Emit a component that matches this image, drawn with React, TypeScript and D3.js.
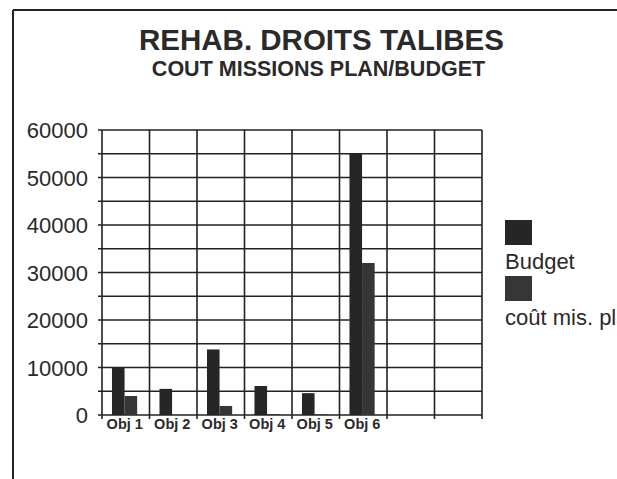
import React from "react";
import * as d3 from "d3";

const categories = ["Obj 1", "Obj 2", "Obj 3", "Obj 4", "Obj 5", "Obj 6", "", ""];
const budget = [10000, 5500, 13800, 6100, 4600, 55000, 0, 0];
const coutMis = [4000, 0, 1900, 200, 150, 32000, 0, 0];
const seriesNames = ["Budget", "coût mis. plan"];
const yTicks = [0, 10000, 20000, 30000, 40000, 50000, 60000];
const yGrid = d3.range(0, 60001, 5000);

const W = 617;
const H = 479;
const plot = { left: 102, right: 482, top: 130, bottom: 415 };
const font = "'Liberation Sans', Arial, sans-serif";
const ink = "#222";

export default function App() {
  const y = d3.scaleLinear().domain([0, 60000]).range([plot.bottom, plot.top]);
  const x = d3
    .scaleBand<number>()
    .domain(d3.range(categories.length))
    .range([plot.left, plot.right]);
  const bw = x.bandwidth();
  const x1 = d3
    .scaleBand<string>()
    .domain(seriesNames)
    .range([bw * 0.21, bw * 0.74]);
  const colors = ["#262626", "#363636"];
  const values = [budget, coutMis];

  return (
    <svg
      width={W}
      height={H}
      style={{ position: "absolute", left: 0, top: 0, background: "#fff" }}
    >
      {/* frame */}
      <line x1={13} y1={10} x2={W} y2={10} stroke={ink} strokeWidth={2} />
      <line x1={13} y1={10} x2={13} y2={H} stroke={ink} strokeWidth={2} />

      {/* titles */}
      <text
        x={321.5}
        y={50}
        textAnchor="middle"
        fontFamily={font}
        fontWeight="bold"
        fontSize={29.5}
        fill="#2a2a2a"
      >
        REHAB. DROITS TALIBES
      </text>
      <text
        x={318.5}
        y={76}
        textAnchor="middle"
        fontFamily={font}
        fontWeight="bold"
        fontSize={21.5}
        fill="#2a2a2a"
      >
        COUT MISSIONS PLAN/BUDGET
      </text>

      {/* horizontal grid */}
      {yGrid.map((v) => (
        <line
          key={"h" + v}
          x1={plot.left - 4}
          x2={plot.right}
          y1={y(v)}
          y2={y(v)}
          stroke={ink}
          strokeWidth={1.6}
        />
      ))}
      {/* vertical grid */}
      {d3.range(categories.length + 1).map((i) => {
        const xx = plot.left + i * bw;
        return (
          <line
            key={"v" + i}
            x1={xx}
            x2={xx}
            y1={plot.top}
            y2={plot.bottom + 4}
            stroke={ink}
            strokeWidth={1.6}
          />
        );
      })}

      {/* bars */}
      {categories.map((c, i) =>
        seriesNames.map((s, si) => {
          const v = values[si][i];
          if (!v) return null;
          return (
            <rect
              key={c + s + i}
              x={(x(i) as number) + (x1(s) as number)}
              y={y(v)}
              width={x1.bandwidth()}
              height={y(0) - y(v)}
              fill={colors[si]}
            />
          );
        })
      )}

      {/* y labels */}
      {yTicks.map((v) => (
        <text
          key={"yl" + v}
          x={88}
          y={y(v) + 8}
          textAnchor="end"
          fontFamily={font}
          fontSize={22}
          fill="#2a2a2a"
        >
          {v}
        </text>
      ))}

      {/* x labels */}
      {categories.map((c, i) => (
        <text
          key={"xl" + i}
          x={(x(i) as number) + bw / 2 - 1}
          y={429}
          textAnchor="middle"
          fontFamily={font}
          fontWeight="bold"
          fontSize={14.5}
          fill="#2a2a2a"
        >
          {c}
        </text>
      ))}

      {/* legend */}
      {seriesNames.map((s, si) => (
        <g key={"lg" + s} transform={`translate(505, ${220 + si * 56})`}>
          <rect x={0} y={0} width={27} height={25} fill={colors[si]} />
          <text x={0} y={49} fontFamily={font} fontSize={22} fill="#2a2a2a">
            {s}
          </text>
        </g>
      ))}
    </svg>
  );
}
